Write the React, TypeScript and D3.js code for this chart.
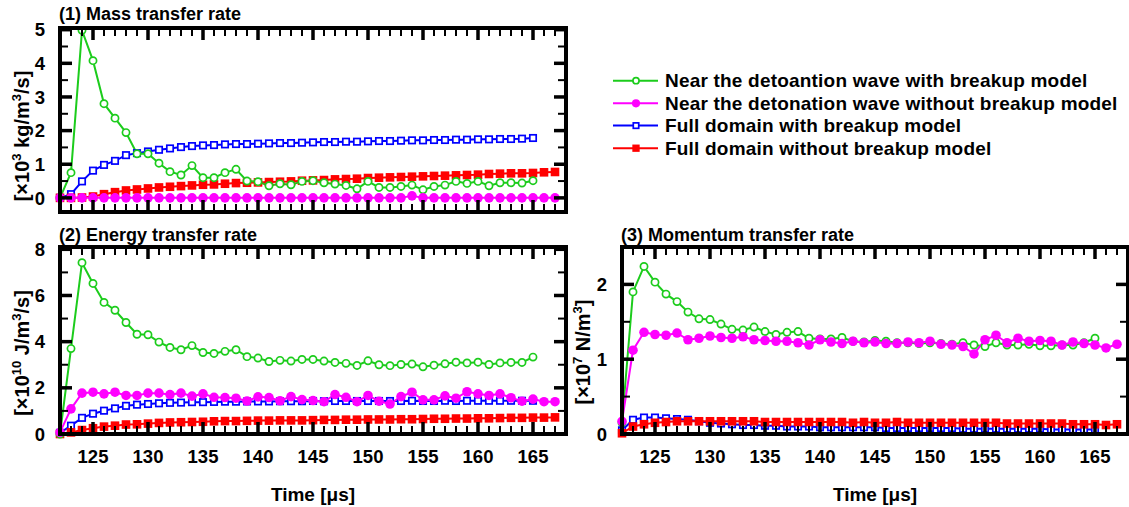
import React from 'react';
import * as d3 from 'd3';

// time axis [µs], one sample per µs
const TIME = [
  122, 123, 124, 125, 126, 127, 128, 129, 130, 131, 132, 133, 134, 135, 136, 137,
  138, 139, 140, 141, 142, 143, 144, 145, 146, 147, 148, 149, 150, 151, 152, 153,
  154, 155, 156, 157, 158, 159, 160, 161, 162, 163, 164, 165, 166, 167,
];

const X_TICK_LABELS = [125, 130, 135, 140, 145, 150, 155, 160, 165];

const LEGEND_LABELS = [
  'Near the detoantion wave with breakup model',
  'Near the detonation wave without breakup model',
  'Full domain with breakup model',
  'Full domain without breakup model',
];

// (1) mass transfer rate [x10^3 kg/m3/s]
const MASS_NEAR_BREAKUP = [
  0, 0.75, 4.98, 4.08, 2.8, 2.37, 1.94, 1.31, 1.31, 1.03, 0.78, 0.68, 0.96, 0.6, 0.6, 0.75,
  0.85, 0.5, 0.48, 0.36, 0.42, 0.39, 0.49, 0.51, 0.45, 0.41, 0.37, 0.27, 0.49, 0.31, 0.31, 0.34,
  0.38, 0.24, 0.34, 0.38, 0.49, 0.43, 0.49, 0.36, 0.45, 0.45, 0.44, 0.51,
];
const MASS_NEAR_NOBREAKUP = [
  0, 0, 0, 0, 0, 0, 0, 0, 0, 0, 0, 0, 0, 0, 0, 0,
  0, 0, 0, 0, 0, 0, 0, 0, 0, 0, 0, 0, 0, 0, 0, 0,
  0.06, 0, 0, 0, 0, 0, 0, 0, 0, 0, 0, 0, 0, 0,
];
const MASS_FULL_BREAKUP = [
  0, 0.11, 0.49, 0.81, 0.98, 1.1, 1.27, 1.33, 1.38, 1.43, 1.47, 1.51, 1.54, 1.56, 1.57, 1.59,
  1.6, 1.6, 1.61, 1.62, 1.63, 1.63, 1.64, 1.65, 1.66, 1.66, 1.67, 1.67, 1.68, 1.69, 1.69, 1.7,
  1.71, 1.71, 1.72, 1.72, 1.73, 1.73, 1.74, 1.74, 1.75, 1.75, 1.76, 1.78,
];
const MASS_FULL_NOBREAKUP = [
  0, 0, 0.01, 0.04, 0.11, 0.17, 0.22, 0.25, 0.28, 0.31, 0.33, 0.35, 0.37, 0.39, 0.4, 0.42,
  0.44, 0.45, 0.46, 0.47, 0.48, 0.49, 0.51, 0.52, 0.53, 0.55, 0.56, 0.57, 0.59, 0.6, 0.61, 0.62,
  0.63, 0.64, 0.65, 0.66, 0.67, 0.68, 0.69, 0.71, 0.72, 0.73, 0.73, 0.74, 0.76, 0.77,
];

// (2) energy transfer rate [x10^10 J/m3/s]
const ENERGY_NEAR_BREAKUP = [
  0, 3.7, 7.42, 6.52, 5.7, 5.36, 4.83, 4.32, 4.3, 3.98, 3.75, 3.65, 3.83, 3.53, 3.49, 3.58,
  3.65, 3.35, 3.29, 3.14, 3.19, 3.16, 3.23, 3.23, 3.16, 3.1, 3.06, 2.97, 3.17, 3.0, 2.96, 3.01,
  3.03, 2.91, 2.98, 3.04, 3.11, 3.08, 3.11, 3.01, 3.08, 3.1, 3.1, 3.33,
];
const ENERGY_NEAR_NOBREAKUP = [
  0.07, 1.09, 1.77, 1.81, 1.74, 1.81, 1.67, 1.67, 1.77, 1.77, 1.71, 1.77, 1.64, 1.74, 1.59, 1.58,
  1.55, 1.43, 1.61, 1.58, 1.44, 1.62, 1.49, 1.45, 1.4, 1.71, 1.59, 1.4, 1.67, 1.42, 1.3, 1.62,
  1.81, 1.48, 1.48, 1.65, 1.55, 1.83, 1.74, 1.67, 1.74, 1.57, 1.42, 1.51, 1.4, 1.4,
];
const ENERGY_FULL_BREAKUP = [
  0.05, 0.36, 0.7, 0.88, 1.01, 1.11, 1.22, 1.27, 1.3, 1.33, 1.35, 1.36, 1.38, 1.38, 1.39, 1.4,
  1.4, 1.41, 1.41, 1.41, 1.42, 1.42, 1.42, 1.43, 1.42, 1.43, 1.43, 1.43, 1.43, 1.43, 1.43, 1.43,
  1.44, 1.43, 1.43, 1.44, 1.43, 1.44, 1.44, 1.44, 1.44, 1.44, 1.44, 1.44,
];
const ENERGY_FULL_NOBREAKUP = [
  0, 0.07, 0.17, 0.25, 0.32, 0.36, 0.41, 0.42, 0.45, 0.48, 0.5, 0.51, 0.52, 0.53, 0.55, 0.56,
  0.56, 0.57, 0.58, 0.58, 0.59, 0.59, 0.59, 0.6, 0.61, 0.61, 0.62, 0.62, 0.63, 0.63, 0.63, 0.64,
  0.64, 0.65, 0.66, 0.66, 0.67, 0.67, 0.68, 0.68, 0.69, 0.7, 0.7, 0.71, 0.71, 0.72,
];

// (3) momentum transfer rate [x10^7 N/m3]
const MOMENTUM_NEAR_BREAKUP = [
  0.15, 1.9, 2.24, 2.03, 1.87, 1.77, 1.63, 1.54, 1.53, 1.47, 1.4, 1.39, 1.43, 1.37, 1.33, 1.36,
  1.37, 1.28, 1.27, 1.27, 1.29, 1.24, 1.23, 1.25, 1.24, 1.22, 1.22, 1.21, 1.22, 1.21, 1.2, 1.22,
  1.19, 1.17, 1.22, 1.19, 1.19, 1.2, 1.18, 1.18, 1.19, 1.19, 1.22, 1.28,
];
const MOMENTUM_NEAR_NOBREAKUP = [
  0.17, 1.12, 1.36, 1.33, 1.32, 1.35, 1.26, 1.28, 1.31, 1.29, 1.28, 1.3, 1.26, 1.25, 1.24, 1.24,
  1.22, 1.19, 1.26, 1.23, 1.21, 1.24, 1.22, 1.23, 1.21, 1.21, 1.23, 1.22, 1.24, 1.2, 1.19, 1.17,
  1.07, 1.26, 1.32, 1.22, 1.28, 1.24, 1.25, 1.24, 1.19, 1.23, 1.21, 1.19, 1.15, 1.2,
];
const MOMENTUM_FULL_BREAKUP = [
  0.05, 0.19, 0.22, 0.22, 0.21, 0.2, 0.19, 0.17, 0.15, 0.14, 0.13, 0.12, 0.12, 0.11, 0.11, 0.1,
  0.1, 0.1, 0.09, 0.09, 0.09, 0.09, 0.09, 0.09, 0.08, 0.08, 0.08, 0.08, 0.08, 0.08, 0.08, 0.07,
  0.07, 0.07, 0.07, 0.07, 0.07, 0.07, 0.07, 0.06, 0.06, 0.06, 0.06, 0.06,
];
const MOMENTUM_FULL_NOBREAKUP = [
  0.01, 0.1, 0.13, 0.15, 0.16, 0.17, 0.17, 0.17, 0.17, 0.17, 0.17, 0.17, 0.17, 0.16, 0.16, 0.16,
  0.16, 0.16, 0.16, 0.16, 0.16, 0.15, 0.16, 0.15, 0.15, 0.16, 0.15, 0.15, 0.15, 0.15, 0.15, 0.15,
  0.15, 0.15, 0.15, 0.14, 0.14, 0.14, 0.14, 0.14, 0.14, 0.13, 0.13, 0.13, 0.12, 0.13,
];

const GREEN = '#1ccc1c';
const MAGENTA = '#ff00ff';
const BLUE = '#0000ff';
const RED = '#ff0000';
const FONT = '"Liberation Sans", Arial, Helvetica, sans-serif';

const STYLES = [
  { color: GREEN, marker: 'openCircle' },
  { color: MAGENTA, marker: 'circle' },
  { color: BLUE, marker: 'openSquare' },
  { color: RED, marker: 'square' },
];

function Marker({ type, x, y, color, scale = 1 }) {
  if (type === 'openCircle')
    return <circle cx={x} cy={y} r={3.6 * scale} fill="#fff" stroke={color} strokeWidth={1.7} />;
  if (type === 'circle') return <circle cx={x} cy={y} r={4.8 * scale} fill={color} />;
  if (type === 'openSquare') {
    const s = 6.4 * scale;
    return <rect x={x - s / 2} y={y - s / 2} width={s} height={s} fill="#fff" stroke={color} strokeWidth={1.7} />;
  }
  const s = 8.6 * scale;
  return <rect x={x - s / 2} y={y - s / 2} width={s} height={s} fill={color} />;
}

function Panel({ left, right, top, bottom, yDomain, yMajor, yMinor, yLabels, series, title, unit, unitPos, labelX, showX }) {
  const x = d3.scaleLinear().domain([122, 168]).range([left, right]);
  const y = d3.scaleLinear().domain(yDomain).range([bottom, top]);
  const line = d3.line<{ t: number; v: number }>().x(d => x(d.t)).y(d => y(d.v));
  const xTicks = d3.range(123, 168);
  // drawing order: full domain first, near-wave series last
  const order = [2, 3, 0, 1];

  return (
    <g>
      {order.map(i => {
        const pts = series[i].map((v, k) => ({ t: TIME[k], v }));
        return (
          <path key={'l' + i} d={line(pts) || ''} fill="none" stroke={STYLES[i].color} strokeWidth={2} />
        );
      })}
      {order.map(i => (
        <g key={'m' + i}>
          {series[i].map((v, k) => (
            <Marker key={k} type={STYLES[i].marker} x={x(TIME[k])} y={y(v)} color={STYLES[i].color} />
          ))}
        </g>
      ))}

      {/* ticks on all four sides, pointing inward */}
      {xTicks.map(t => {
        const major = t % 5 === 0;
        const len = major ? 12 : 8;
        const w = major ? 3.5 : 2;
        return (
          <g key={'xt' + t} stroke="#000" strokeWidth={w}>
            <line x1={x(t)} x2={x(t)} y1={bottom} y2={bottom - len} />
            <line x1={x(t)} x2={x(t)} y1={top} y2={top + len} />
          </g>
        );
      })}
      {yMajor.concat(yMinor).map(v => {
        const major = yMajor.includes(v);
        const len = major ? 12 : 8;
        const w = major ? 3.5 : 2;
        return (
          <g key={'yt' + v} stroke="#000" strokeWidth={w}>
            <line x1={left} x2={left + len} y1={y(v)} y2={y(v)} />
            <line x1={right} x2={right - len} y1={y(v)} y2={y(v)} />
          </g>
        );
      })}
      <rect x={left} y={top} width={right - left} height={bottom - top} fill="none" stroke="#000" strokeWidth={4} />

      <g fontFamily={FONT} fontWeight="bold" fill="#000">
        {yLabels.map(v => (
          <text key={'yl' + v} x={left - 15} y={y(v)} dy="0.36em" textAnchor="end" fontSize={18.5}>
            {v}
          </text>
        ))}
        {showX &&
          X_TICK_LABELS.map(t => (
            <text key={'xl' + t} x={x(t)} y={463} textAnchor="middle" fontSize={18.5}>
              {t}
            </text>
          ))}
        {showX && (
          <text x={(left + right) / 2} y={501} textAnchor="middle" fontSize={19}>
            Time [μs]
          </text>
        )}
        <text x={left - 1} y={title.y} fontSize={18}>
          {title.text}
        </text>
        <text transform={`translate(${labelX},${unitPos}) rotate(-90)`} textAnchor="middle" fontSize={20}>
          {unit.map((part, k) =>
            part.sup ? (
              <tspan key={k} fontSize={13} dy={-8}>
                {part.text}
              </tspan>
            ) : (
              <tspan key={k} dy={k > 0 && unit[k - 1].sup ? 8 : 0}>
                {part.text}
              </tspan>
            )
          )}
        </text>
      </g>
    </g>
  );
}

function Legend() {
  const rows = [80.7, 103.3, 125.6, 148.2];
  return (
    <g fontFamily={FONT} fontWeight="bold" fontSize={19} letterSpacing={0.2}>
      {LEGEND_LABELS.map((label, i) => (
        <g key={i}>
          <line x1={613} x2={658} y1={rows[i]} y2={rows[i]} stroke={STYLES[i].color} strokeWidth={2} />
          <Marker type={STYLES[i].marker} x={636} y={rows[i]} color={STYLES[i].color} scale={0.85} />
          <text x={665} y={rows[i] + 6.5} fill="#000">
            {label}
          </text>
        </g>
      ))}
    </g>
  );
}

export default function App() {
  return (
    <svg
      width={1129}
      height={507}
      style={{ position: 'fixed', left: 0, top: 0, background: '#fff' }}
    >
      <Panel
        left={60}
        right={566}
        top={28}
        bottom={212}
        yDomain={[-0.42, 5.05]}
        yMajor={[0, 1, 2, 3, 4, 5]}
        yMinor={[0.5, 1.5, 2.5, 3.5, 4.5]}
        yLabels={[0, 1, 2, 3, 4, 5]}
        series={[MASS_NEAR_BREAKUP, MASS_NEAR_NOBREAKUP, MASS_FULL_BREAKUP, MASS_FULL_NOBREAKUP]}
        title={{ text: '(1) Mass transfer rate', y: 20 }}
        unit={[{ text: '[×10' }, { text: '3', sup: true }, { text: ' kg/m' }, { text: '3', sup: true }, { text: '/s]' }]}
        labelX={29}
        unitPos={136}
        showX={false}
      />
      <Panel
        left={60}
        right={566}
        top={247}
        bottom={434}
        yDomain={[0, 8.1]}
        yMajor={[0, 2, 4, 6, 8]}
        yMinor={[1, 3, 5, 7]}
        yLabels={[0, 2, 4, 6, 8]}
        series={[ENERGY_NEAR_BREAKUP, ENERGY_NEAR_NOBREAKUP, ENERGY_FULL_BREAKUP, ENERGY_FULL_NOBREAKUP]}
        title={{ text: '(2) Energy transfer rate', y: 241 }}
        unit={[{ text: '[×10' }, { text: '10', sup: true }, { text: ' J/m' }, { text: '3', sup: true }, { text: '/s]' }]}
        labelX={29}
        unitPos={353}
        showX={true}
      />
      <Panel
        left={622}
        right={1128}
        top={247}
        bottom={434}
        yDomain={[0, 2.5]}
        yMajor={[0, 1, 2]}
        yMinor={[0.5, 1.5]}
        yLabels={[0, 1, 2]}
        series={[MOMENTUM_NEAR_BREAKUP, MOMENTUM_NEAR_NOBREAKUP, MOMENTUM_FULL_BREAKUP, MOMENTUM_FULL_NOBREAKUP]}
        title={{ text: '(3) Momentum transfer rate', y: 241 }}
        unit={[{ text: '[×10' }, { text: '7', sup: true }, { text: ' N/m' }, { text: '3', sup: true }, { text: ']' }]}
        labelX={590}
        unitPos={352}
        showX={true}
      />
      <Legend />
    </svg>
  );
}
